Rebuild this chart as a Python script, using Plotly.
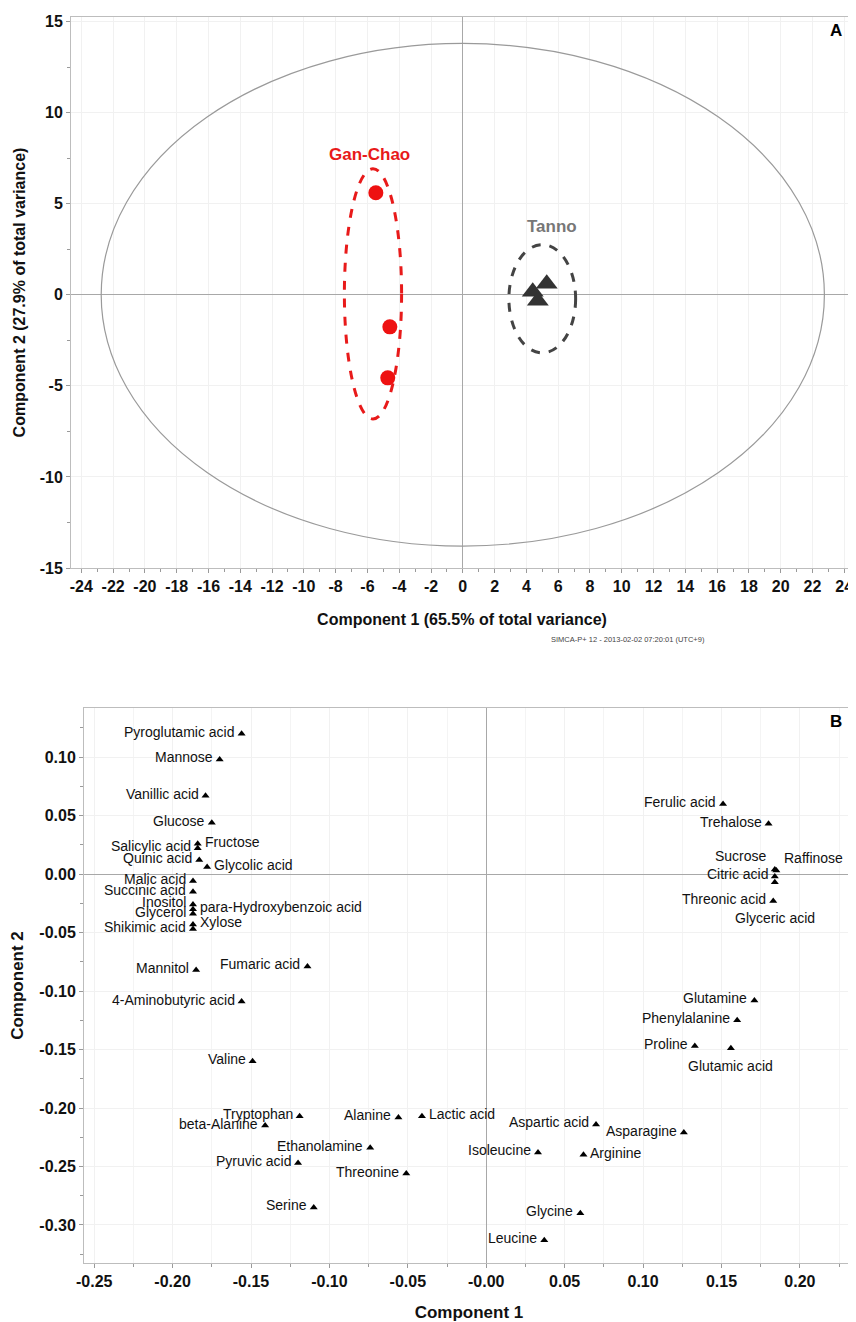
import plotly.graph_objects as go

# ---------------- Panel A data (scores) ----------------
ganchao_x = [-5.47, -4.59, -4.72]
ganchao_y = [5.60, -1.76, -4.56]
tanno_x = [4.40, 5.28, 4.72]
tanno_y = [0.16, 0.60, -0.33]

# Hotelling T2 ellipse and group ellipses: centre x, centre y, semi-axis x, semi-axis y
t2_ellipse = [0.0, 0.0, 22.75, 13.8]
ganchao_ellipse = [-5.65, 0.05, 1.8, 6.87]
tanno_ellipse = [5.0, -0.22, 2.1, 2.97]

a_xticks = list(range(-24, 25, 2))
a_yticks = [-15, -10, -5, 0, 5, 10, 15]

# ---------------- Panel B data (loadings) ----------------
metabolites = [
    "Pyroglutamic acid", "Mannose", "Vanillic acid", "Glucose", "Salicylic acid",
    "Fructose", "Quinic acid", "Glycolic acid", "Malic acid", "Succinic acid",
    "Inositol", "para-Hydroxybenzoic acid", "Glycerol", "Shikimic acid", "Xylose",
    "Mannitol", "Fumaric acid", "4-Aminobutyric acid", "Valine", "Tryptophan",
    "beta-Alanine", "Alanine", "Lactic acid", "Ethanolamine", "Pyruvic acid",
    "Threonine", "Serine", "Aspartic acid", "Asparagine", "Isoleucine",
    "Arginine", "Glycine", "Leucine", "Ferulic acid", "Trehalose",
    "Sucrose", "Raffinose", "Citric acid", "Threonic acid", "Glyceric acid",
    "Glutamine", "Phenylalanine", "Proline", "Glutamic acid",
]
load_x = [
    -0.156, -0.170, -0.179, -0.175, -0.184,
    -0.184, -0.183, -0.178, -0.187, -0.187,
    -0.187, -0.187, -0.187, -0.187, -0.187,
    -0.185, -0.114, -0.156, -0.149, -0.119,
    -0.141, -0.056, -0.041, -0.074, -0.120,
    -0.051, -0.110, 0.070, 0.126, 0.033,
    0.062, 0.060, 0.037, 0.151, 0.180,
    0.184, 0.185, 0.184, 0.183, 0.184,
    0.171, 0.160, 0.133, 0.156,
]
load_y = [
    0.120, 0.098, 0.067, 0.044, 0.022,
    0.026, 0.012, 0.006, -0.006, -0.015,
    -0.026, -0.030, -0.034, -0.047, -0.043,
    -0.082, -0.079, -0.109, -0.160, -0.207,
    -0.215, -0.208, -0.207, -0.234, -0.247,
    -0.256, -0.285, -0.214, -0.221, -0.238,
    -0.240, -0.290, -0.313, 0.060, 0.043,
    0.004, 0.003, -0.002, -0.023, -0.007,
    -0.108, -0.125, -0.147, -0.149,
]
# label placement relative to marker
label_side = [
    "L", "L", "L", "L", "L",
    "R", "L", "R", "L", "L",
    "L", "R", "L", "L", "R",
    "L", "L", "L", "L", "L",
    "L", "L", "R", "L", "L",
    "L", "L", "L", "L", "L",
    "R", "L", "L", "L", "L",
    "TL", "TR", "L", "L", "B2",
    "L", "L", "L", "B",
]
b_xticks = [-0.25, -0.20, -0.15, -0.10, -0.05, 0.0, 0.05, 0.10, 0.15, 0.20]
b_xticktext = ["-0.25", "-0.20", "-0.15", "-0.10", "-0.05", "-0.00", "0.05", "0.10", "0.15", "0.20"]
b_yticks = [0.10, 0.05, 0.0, -0.05, -0.10, -0.15, -0.20, -0.25, -0.30]
b_yticktext = ["0.10", "0.05", "0.00", "-0.05", "-0.10", "-0.15", "-0.20", "-0.25", "-0.30"]

FONT = "Liberation Sans, Arial, sans-serif"
W, H = 856, 1322

fig = go.Figure()

# Panel A traces
fig.add_trace(go.Scatter(x=ganchao_x, y=ganchao_y, mode="markers",
                         marker=dict(symbol="circle", size=15, color="#ee1111"),
                         xaxis="x", yaxis="y", showlegend=False, hoverinfo="x+y"))
fig.add_trace(go.Scatter(x=tanno_x, y=tanno_y, mode="markers",
                         marker=dict(symbol="triangle-up", size=19, color="#333333"),
                         xaxis="x", yaxis="y", showlegend=False, hoverinfo="x+y"))

# Panel B trace
fig.add_trace(go.Scatter(x=load_x, y=load_y, mode="markers",
                         marker=dict(symbol="triangle-up", size=7, color="#000000"),
                         text=metabolites, hoverinfo="text",
                         xaxis="x2", yaxis="y2", showlegend=False))

shapes = []
def ell(p, color, width, dash, ax="x", ay="y"):
    cx, cy, a, b = p
    return dict(type="circle", xref=ax, yref=ay, x0=cx - a, x1=cx + a, y0=cy - b, y1=cy + b,
                line=dict(color=color, width=width, dash=dash), layer="above")

shapes.append(ell(t2_ellipse, "#9a9a9a", 1.2, "solid"))
shapes.append(ell(ganchao_ellipse, "#e81a1a", 3, "dash"))
shapes.append(ell(tanno_ellipse, "#444444", 3, "dash"))

annotations = []
annotations.append(dict(x=-5.9, y=7.7, xref="x", yref="y", text="<b>Gan-Chao</b>", showarrow=False,
                        font=dict(family=FONT, size=17, color="#e81a1a")))
annotations.append(dict(x=5.6, y=3.75, xref="x", yref="y", text="<b>Tanno</b>", showarrow=False,
                        font=dict(family=FONT, size=17, color="#777777")))
annotations.append(dict(x=828 / W, y=1 - 22 / H, xref="paper", yref="paper", text="<b>A</b>",
                        xanchor="center", yanchor="middle",
                        showarrow=False, font=dict(family=FONT, size=17, color="#000")))
annotations.append(dict(x=828 / W, y=1 - 714 / H, xref="paper", yref="paper", text="<b>B</b>",
                        xanchor="center", yanchor="middle",
                        showarrow=False, font=dict(family=FONT, size=17, color="#000")))
annotations.append(dict(x=620 / W, y=1 - 631 / H, xref="paper", yref="paper",
                        xanchor="center", yanchor="middle",
                        text="SIMCA-P+ 12 - 2013-02-02 07:20:01 (UTC+9)", showarrow=False,
                        font=dict(family=FONT, size=7.5, color="#444")))

place = {
    "L": dict(xanchor="right", yanchor="middle", xshift=-5, yshift=2),
    "R": dict(xanchor="left", yanchor="middle", xshift=5, yshift=2),
    "TL": dict(xanchor="right", yanchor="middle", xshift=-6, yshift=13),
    "TR": dict(xanchor="left", yanchor="middle", xshift=6, yshift=13),
    "B": dict(xanchor="center", yanchor="middle", xshift=0, yshift=-18),
    "B2": dict(xanchor="center", yanchor="middle", xshift=0, yshift=-36),
}
for name, x, y, side in zip(metabolites, load_x, load_y, label_side):
    annotations.append(dict(x=x, y=y, xref="x2", yref="y2", text=name, showarrow=False,
                            font=dict(family=FONT, size=14, color="#111"), **place[side]))

axis_common = dict(showline=True, mirror=True, linecolor="#bdbdbd", linewidth=1,
                   ticks="outside", ticklen=4, tickcolor="#9a9a9a", automargin=False,
                   showgrid=True, gridcolor="#f1f1f1", gridwidth=1,
                   zeroline=True, zerolinecolor="#a8a8a8", zerolinewidth=1,
                   tickfont=dict(family=FONT, size=16, color="#111", weight="bold"))

fig.update_layout(
    width=W, height=H,
    margin=dict(l=0, r=0, t=0, b=0),
    paper_bgcolor="white", plot_bgcolor="white",
    font=dict(family=FONT, color="#111"),
    shapes=shapes, annotations=annotations,
    xaxis=dict(domain=[63 / W, 845 / W], anchor="y", range=[-24.65, 24.55],
               tickvals=a_xticks, ticktext=[str(v) for v in a_xticks],
               minor=dict(dtick=1, ticks="outside", ticklen=3, tickcolor="#9a9a9a", showgrid=False),
               title=dict(text="<b>Component 1 (65.5% of total variance)</b>", standoff=19,
                          font=dict(family=FONT, size=16)),
               **axis_common),
    yaxis=dict(domain=[1 - 560 / H, 1 - 9 / H], anchor="x", range=[-15, 15.25],
               tickvals=a_yticks, ticktext=[str(v) for v in a_yticks],
               minor=dict(dtick=2.5, ticks="outside", ticklen=3, tickcolor="#9a9a9a", showgrid=False),
               title=dict(text="<b>Component 2 (27.9% of total variance)</b>", standoff=10,
                          font=dict(family=FONT, size=16)),
               **axis_common),
    xaxis2=dict(domain=[76 / W, 846 / W], anchor="y2", range=[-0.2565, 0.2345],
                tickvals=b_xticks, ticktext=b_xticktext,
                minor=dict(dtick=0.025, ticks="outside", ticklen=3, tickcolor="#9a9a9a", showgrid=True,
                           gridcolor="#f4f4f4"),
                title=dict(text="<b>Component 1</b>", standoff=16, font=dict(family=FONT, size=17)),
                **axis_common),
    yaxis2=dict(domain=[1 - 1255 / H, 1 - 700 / H], anchor="x2", range=[-0.3325, 0.142],
                tickvals=b_yticks, ticktext=b_yticktext,
                minor=dict(dtick=0.025, ticks="outside", ticklen=3, tickcolor="#9a9a9a", showgrid=False),
                title=dict(text="<b>Component 2</b>", standoff=12, font=dict(family=FONT, size=17)),
                **axis_common),
)

fig.write_html("out.html")
